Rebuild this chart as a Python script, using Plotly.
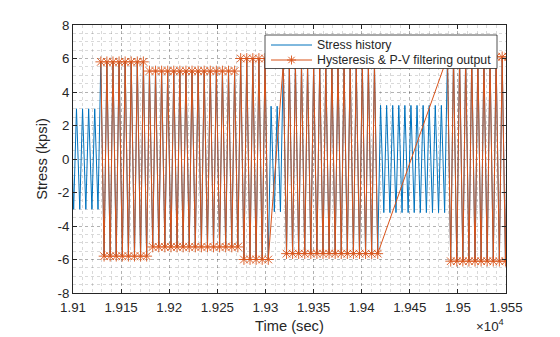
import plotly.graph_objects as go

# ---- data ----
# loading blocks of the stress history (cycles per block, amplitude in kpsi)
block_cycles = [5, 8, 15, 5, 2, 16, 11, 11]
block_amp = [3.0, 5.8, 5.25, 6.0, 3.15, 5.65, 3.2, 6.1]
block_kept = [False, True, True, True, False, True, False, True]  # survives hysteresis filter
first_peak_time = 19097.3   # sec
cycle_period = 6.32         # sec
valley_lag = 3.4            # sec after each peak

x_tick_vals = [19100, 19150, 19200, 19250, 19300, 19350, 19400, 19450, 19500, 19550]
x_tick_text = ["1.91", "1.915", "1.92", "1.925", "1.93", "1.935", "1.94", "1.945", "1.95", "1.955"]
y_tick_vals = [-8, -6, -4, -2, 0, 2, 4, 6, 8]
y_tick_text = ["-8", "-6", "-4", "-2", "0", "2", "4", "6", "8"]
legend_labels = ["Stress history", "Hysteresis & P-V filtering output"]

# ---- turning points of the history ----
t_all, s_all, t_pv, s_pv = [], [], [], []
k = 0
for n, a, keep in zip(block_cycles, block_amp, block_kept):
    for i in range(n):
        tp = first_peak_time + k * cycle_period
        for tt, ss in ((tp, a), (tp + valley_lag, -a)):
            t_all.append(tt); s_all.append(ss)
            if keep:
                t_pv.append(tt); s_pv.append(ss)
        k += 1

BLUE = "#0072BD"
ORANGE = "#D95319"
TXT = "#262626"
FONT = "Liberation Sans, Arial, sans-serif"

W, H = 560, 337
ML, MR, MT, MB = 73, 54, 25, 44
PW, PH = W - ML - MR, H - MT - MB


def px(xp):  # pixel -> paper x
    return (xp - ML) / PW


def py(yp):  # pixel -> paper y
    return (H - MB - yp) / PH


fig = go.Figure()
fig.add_trace(go.Scatter(x=t_all, y=s_all, mode="lines", name=legend_labels[0],
                         line=dict(color=BLUE, width=1.0), showlegend=False))
fig.add_trace(go.Scatter(x=t_pv, y=s_pv, mode="lines+markers",
                         name=legend_labels[1], showlegend=False,
                         line=dict(color=ORANGE, width=1.0),
                         marker=dict(symbol="asterisk-open", size=9,
                                     color=ORANGE, line=dict(color=ORANGE, width=0.9))))

# ---- legend box drawn MATLAB-style ----
shapes = [dict(type="rect", xref="paper", yref="paper", layer="above",
               x0=px(265), x1=px(497), y0=py(68.5), y1=py(35),
               fillcolor="white", line=dict(color=TXT, width=0.8))]
rows = [45, 60]
colors = [BLUE, ORANGE]
for r, c in zip(rows, colors):
    shapes.append(dict(type="line", xref="paper", yref="paper", layer="above",
                       x0=px(271), x1=px(312), y0=py(r), y1=py(r),
                       line=dict(color=c, width=1.0)))
# asterisk glyph of second entry
cx, cy, arm, d = 291.5, rows[1], 4.5, 3.2
for dx, dy in ((arm, 0), (0, arm), (d, d), (d, -d)):
    shapes.append(dict(type="line", xref="paper", yref="paper", layer="above",
                       x0=px(cx - dx), x1=px(cx + dx), y0=py(cy - dy), y1=py(cy + dy),
                       line=dict(color=ORANGE, width=0.9)))

annotations = [
    dict(text="Time (sec)", x=0.5, y=-0.123, xref="paper", yref="paper",
         xanchor="center", yanchor="middle", showarrow=False, font=dict(size=14.7)),
    dict(text="Stress (kpsi)", x=-0.072, y=0.5, xref="paper", yref="paper",
         xanchor="center", yanchor="middle", textangle=-90, showarrow=False,
         font=dict(size=14.7)),
    dict(text="×10<sup>4</sup>", x=1.0, y=-0.123, xref="paper", yref="paper",
         xanchor="right", yanchor="middle", showarrow=False, font=dict(size=13.3)),
]
for r, lab in zip(rows, legend_labels):
    annotations.append(dict(text=lab, x=px(315), y=py(r), xref="paper", yref="paper",
                            xanchor="left", yanchor="middle", showarrow=False,
                            font=dict(size=12.3, color=TXT)))

grid_major = "rgba(0,0,0,0.18)"
grid_minor = "rgba(0,0,0,0.15)"

fig.update_layout(
    width=W, height=H,
    margin=dict(l=ML, r=MR, t=MT, b=MB),
    paper_bgcolor="white", plot_bgcolor="white",
    font=dict(family=FONT, size=13.3, color=TXT),
    showlegend=False,
    xaxis=dict(range=[19100, 19550], tickvals=x_tick_vals, ticktext=x_tick_text,
               showline=True, linecolor=TXT, linewidth=0.8, mirror="allticks",
               ticks="inside", ticklen=4, tickcolor=TXT, tickwidth=0.8,
               ticklabelstandoff=2,
               showgrid=True, gridcolor=grid_major, griddash="dot", gridwidth=0.8,
               minor=dict(dtick=10, tick0=19100, showgrid=True, gridcolor=grid_minor,
                          griddash="dot", gridwidth=0.6, ticks=""),
               zeroline=False, tickfont=dict(size=13.3)),
    yaxis=dict(range=[-8, 8], tickvals=y_tick_vals, ticktext=y_tick_text,
               showline=True, linecolor=TXT, linewidth=0.8, mirror="allticks",
               ticks="inside", ticklen=4, tickcolor=TXT, tickwidth=0.8,
               showgrid=True, gridcolor=grid_major, griddash="dot", gridwidth=0.8,
               minor=dict(dtick=0.5, tick0=0, showgrid=True, gridcolor=grid_minor,
                          griddash="dot", gridwidth=0.6, ticks=""),
               zeroline=False, tickfont=dict(size=13.3)),
    shapes=shapes,
    annotations=annotations,
)

fig.write_html("out.html")
